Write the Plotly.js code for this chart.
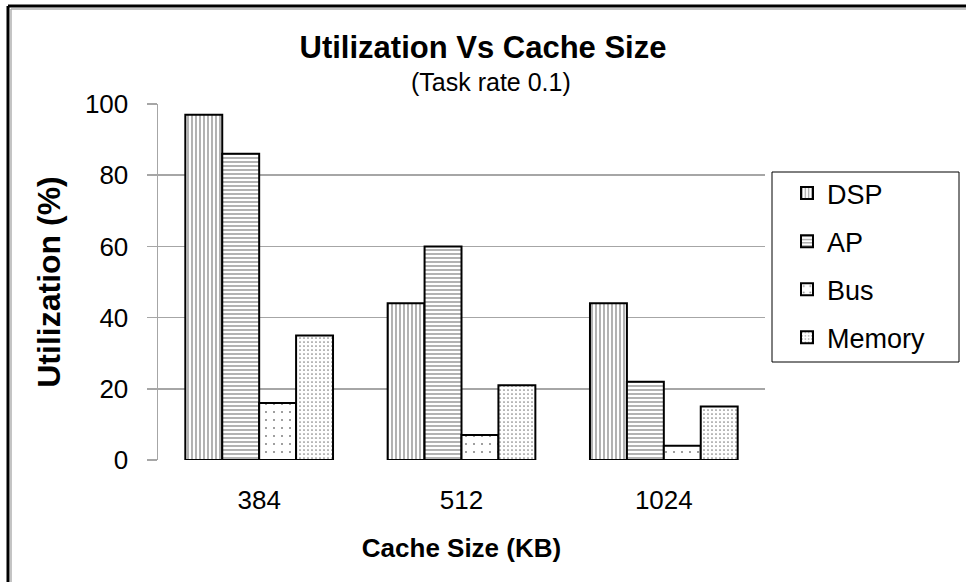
<!DOCTYPE html>
<html>
<head>
<meta charset="utf-8">
<script src="https://cdn.plot.ly/plotly-3.0.1.min.js"></script>
<style>
html,body{margin:0;padding:0;background:#fff;}
#chart{width:966px;height:582px;}
</style>
</head>
<body>
<div id="chart"></div>
<script>
const categories = ["384", "512", "1024"];
const seriesNames = ["DSP", "AP", "Bus", "Memory"];
const dspValues = [97, 44, 44];
const apValues = [86, 60, 22];
const busValues = [16, 7, 4];
const memoryValues = [35, 21, 15];
const yTicks = [0, 20, 40, 60, 80, 100];
const titleText = "Utilization Vs Cache Size";
const subtitleText = "(Task rate 0.1)";

const seriesValues = [dspValues, apValues, busValues, memoryValues];
const patterns = [
  {shape: "|", size: 4, solidity: 0.3},
  {shape: "-", size: 4, solidity: 0.3},
  {shape: ".", size: 8, solidity: 0.05},
  {shape: ".", size: 4, solidity: 0.14}
];

const traces = seriesNames.map((name, i) => ({
  type: "bar",
  name: name,
  x: categories,
  y: seriesValues[i],
  legendgroup: name,
  marker: {
    color: "#ffffff",
    line: {color: "#000000", width: 2},
    pattern: Object.assign({fgcolor: "#000000", bgcolor: "#ffffff", fillmode: "overlay"}, patterns[i])
  },
  hoverinfo: "x+y+name"
}));

const FONT = "Liberation Sans, Arial, sans-serif";
const L = 158, T = 104, W = 607, H = 356;
const px = v => (v - L) / W;
const py = v => (T + H - v) / H;

const layout = {
  width: 966,
  height: 582,
  margin: {l: L, r: 966 - L - W, t: T, b: 582 - T - H},
  paper_bgcolor: "#ffffff",
  plot_bgcolor: "#ffffff",
  font: {family: FONT, color: "#000000"},
  barmode: "group",
  bargap: 0.27,
  bargroupgap: 0,
  title: {
    text: "<b>" + titleText + "</b>",
    font: {size: 31, family: FONT, color: "#000"},
    x: 0.5, xanchor: "center",
    y: 1 - 47/582, yanchor: "middle"
  },
  annotations: [
    {text: subtitleText, xref: "paper", yref: "paper", x: px(491), y: py(82),
     xanchor: "center", yanchor: "middle", showarrow: false,
     font: {size: 25, family: FONT, color: "#000"}}
  ],
  xaxis: {
    type: "category",
    tickfont: {size: 26},
    showgrid: false,
    showline: false,
    ticks: "",
    ticklabelstandoff: 22,
    title: {text: "<b>Cache Size (KB)</b>", font: {size: 26}, standoff: 24},
    automargin: false
  },
  yaxis: {
    range: [0, 100],
    tickvals: yTicks,
    ticktext: yTicks.map(String),
    tickfont: {size: 26},
    showgrid: true,
    gridcolor: "#a6a6a6",
    gridwidth: 1.5,
    zeroline: false,
    showline: true,
    linecolor: "#a6a6a6",
    linewidth: 1.5,
    ticks: "outside",
    ticklen: 10,
    tickcolor: "#a6a6a6",
    tickwidth: 1.5,
    ticklabelstandoff: 13,
    title: {text: "<b>Utilization (%)</b>", font: {size: 32}, standoff: 14},
    automargin: false
  },
  showlegend: true,
  legend: {
    x: px(787), xanchor: "left",
    y: py(169), yanchor: "top",
    font: {size: 27, family: FONT},
    borderwidth: 0,
    bgcolor: "rgba(0,0,0,0)",
    traceorder: "grouped",
    tracegroupgap: 10,
    itemwidth: 30
  },
  shapes: [
    {type: "rect", xref: "paper", yref: "paper",
     x0: px(772), x1: px(959), y0: py(362), y1: py(172),
     line: {color: "#000", width: 1}, fillcolor: "rgba(0,0,0,0)"},
    {type: "line", xref: "paper", yref: "paper",
     x0: px(8), x1: px(8), y0: py(6), y1: py(600),
     line: {color: "#000", width: 3}},
    {type: "line", xref: "paper", yref: "paper",
     x0: px(8), x1: px(980), y0: py(6), y1: py(6),
     line: {color: "#000", width: 3}},
    {type: "line", xref: "paper", yref: "paper",
     x0: px(11), x1: px(11), y0: py(9), y1: py(600),
     line: {color: "#b0b0b0", width: 1.5}},
    {type: "line", xref: "paper", yref: "paper",
     x0: px(11), x1: px(980), y0: py(9), y1: py(9),
     line: {color: "#b0b0b0", width: 1.5}}
  ]
};

Plotly.newPlot("chart", traces, layout, {displayModeBar: false, staticPlot: true});
</script>
</body>
</html>
